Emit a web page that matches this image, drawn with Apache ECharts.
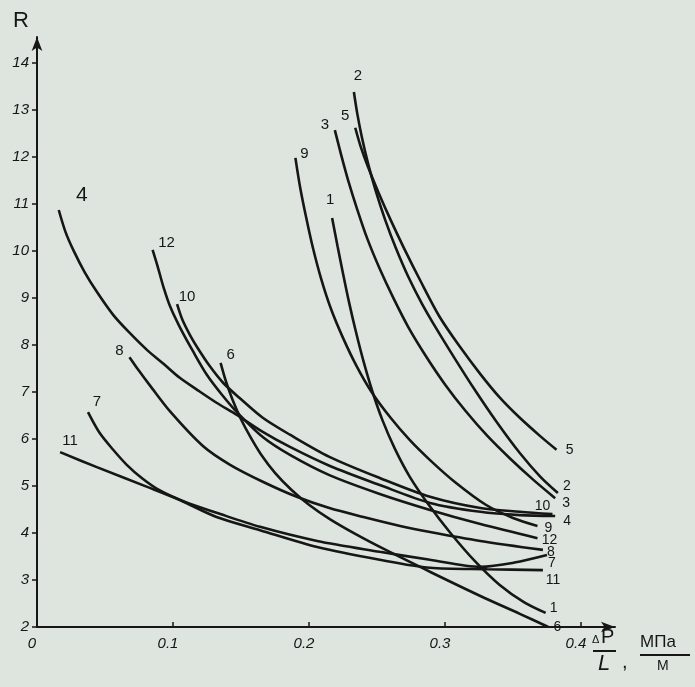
<!DOCTYPE html>
<html><head><meta charset="utf-8">
<script src="https://cdn.jsdelivr.net/npm/echarts@6/dist/echarts.min.js"></script>
<style>html,body{margin:0;padding:0;background:#dde5de;} #c{width:695px;height:687px;}</style>
</head><body><div id="c"></div>
<script>
// ---- data ----
const xTicks = [0, 0.1, 0.2, 0.3, 0.4];
const yTicks = [2, 3, 4, 5, 6, 7, 8, 9, 10, 11, 12, 13, 14];

const x1 = [0.217,0.221,0.225,0.2295,0.2345,0.240,0.2465,0.254,0.263,0.274,0.288,0.304,0.322,0.340,0.358,0.374];
const y1 = [10.70,10.10,9.52,8.90,8.28,7.66,7.02,6.40,5.80,5.20,4.60,4.00,3.40,2.90,2.53,2.30];

const x2 = [0.233,0.2355,0.239,0.2435,0.249,0.256,0.264,0.273,0.283,0.294,0.307,0.322,0.338,0.355,0.370,0.383];
const y2 = [13.38,12.92,12.40,11.85,11.28,10.66,10.05,9.45,8.88,8.33,7.72,7.04,6.36,5.70,5.20,4.85];

const x3 = [0.219,0.2235,0.229,0.2355,0.243,0.252,0.262,0.273,0.286,0.300,0.315,0.331,0.348,0.365,0.381];
const y3 = [12.57,12.06,11.48,10.88,10.25,9.62,9.00,8.38,7.76,7.16,6.60,6.07,5.58,5.13,4.74];

const x4 = [0.016,0.021,0.027,0.035,0.044,0.056,0.068,0.081,0.093,0.105,0.118,0.132,0.147,0.166,0.186,0.215,0.252,0.289,0.326,0.355,0.381];
const y4 = [10.87,10.40,10.00,9.55,9.13,8.64,8.26,7.89,7.60,7.30,7.04,6.77,6.51,6.15,5.83,5.43,5.02,4.64,4.45,4.38,4.36];

const x5 = [0.234,0.238,0.2435,0.251,0.260,0.270,0.282,0.296,0.311,0.326,0.340,0.355,0.370,0.382];
const y5 = [12.62,12.22,11.78,11.25,10.66,10.05,9.36,8.60,7.96,7.38,6.89,6.45,6.06,5.77];

const x6 = [0.135,0.139,0.144,0.150,0.157,0.165,0.175,0.187,0.200,0.215,0.234,0.255,0.290,0.326,0.355,0.376];
const y6 = [7.62,7.22,6.82,6.42,6.04,5.66,5.28,4.92,4.60,4.30,3.98,3.66,3.16,2.66,2.28,2.00];

const x7 = [0.0375,0.046,0.056,0.066,0.077,0.090,0.109,0.132,0.164,0.206,0.252,0.289,0.326,0.351,0.375];
const y7 = [6.57,6.13,5.77,5.45,5.17,4.91,4.66,4.43,4.13,3.83,3.60,3.43,3.28,3.37,3.53];

const x8 = [0.068,0.075,0.083,0.098,0.122,0.142,0.166,0.191,0.215,0.240,0.267,0.289,0.326,0.372];
const y8 = [7.74,7.45,7.14,6.58,5.85,5.45,5.09,4.77,4.53,4.34,4.15,4.02,3.83,3.64];

const x9 = [0.190,0.1935,0.198,0.203,0.209,0.216,0.225,0.235,0.246,0.260,0.274,0.289,0.307,0.330,0.350,0.368];
const y9 = [11.98,11.35,10.70,10.05,9.40,8.78,8.15,7.55,7.00,6.45,5.98,5.55,5.09,4.60,4.32,4.15];

const x10 = [0.103,0.107,0.1125,0.118,0.127,0.137,0.149,0.166,0.186,0.215,0.252,0.289,0.326,0.355,0.379];
const y10 = [8.87,8.53,8.21,7.94,7.55,7.19,6.87,6.45,6.09,5.62,5.17,4.77,4.53,4.45,4.40];

const x11 = [0.017,0.044,0.081,0.105,0.132,0.164,0.206,0.252,0.289,0.331,0.372];
const y11 = [5.72,5.40,4.98,4.70,4.34,4.06,3.70,3.43,3.26,3.23,3.21];

const x12 = [0.085,0.089,0.093,0.098,0.105,0.115,0.125,0.136,0.147,0.166,0.186,0.215,0.252,0.289,0.326,0.368];
const y12 = [10.02,9.64,9.23,8.81,8.38,7.85,7.36,6.94,6.57,6.04,5.66,5.23,4.83,4.49,4.19,3.89];

const curveNames = ['1','2','3','4','5','6','7','8','9','10','11','12'];
const curveX = [x1,x2,x3,x4,x5,x6,x7,x8,x9,x10,x11,x12];
const curveY = [y1,y2,y3,y4,y5,y6,y7,y8,y9,y10,y11,y12];

// ---- label placement (pixel offsets, styling only) ----
const startOffset = {
  '1':[-2,-18],'2':[4,-16],'3':[-10,-5],'4':[23,-15],'5':[-10,-12],'6':[10,-8],
  '7':[9,-10],'8':[-10,-6],'9':[9,-4],'10':[10,-7],'11':[10,-11],'12':[14,-7]
};
const endOffset = {
  '1':[8,-5],'2':[9,-7],'3':[11,5],'4':[12,5],'5':[13,0],'6':[9,0],
  '7':[5,8],'8':[8,2],'9':[11,2],'10':[-10,-8],'11':[10,10],'12':[12,2]
};
const startFont = {'4':21};

const font = 'Liberation Sans';
const ink = '#161616';

const series = curveNames.map((name, k) => {
  const xs = curveX[k], ys = curveY[k];
  const data = xs.map((x, i) => [x, ys[i]]);
  const n = data.length - 1;
  return {
    name: name,
    type: 'line',
    data: data,
    smooth: 0.3,
    showSymbol: false,
    silent: true,
    lineStyle: {color: ink, width: 2.6},
    markPoint: {
      symbol: 'circle',
      symbolSize: 1,
      itemStyle: {color: 'rgba(0,0,0,0)'},
      silent: true,
      animation: false,
      data: [
        {coord: data[0], value: name,
         label: {show: true, position: 'inside', offset: startOffset[name], formatter: name,
                 fontSize: startFont[name] || 15, fontFamily: font, color: ink}},
        {coord: data[n], value: name,
         label: {show: true, position: 'inside', offset: endOffset[name], formatter: name,
                 fontSize: 14, fontFamily: font, color: ink}}
      ]
    }
  };
});

const chart = echarts.init(document.getElementById('c'), null, {renderer: 'canvas'});
chart.setOption({
  backgroundColor: '#dde5de',
  animation: false,
  grid: {left: 37, top: 37, width: 578, height: 590},
  xAxis: {
    type: 'value', min: 0, max: 0.425,
    axisLine: {show: true, lineStyle: {color: ink, width: 2}, symbol: ['none', 'arrow'], symbolSize: [8, 14]},
    axisTick: {show: true, inside: true, length: 5, lineStyle: {color: ink, width: 1.5}, customValues: xTicks},
    axisLabel: {customValues: xTicks, fontStyle: 'italic', fontSize: 15, fontFamily: font, color: ink, margin: 9,
      padding: [0, 10, 0, 0],
      formatter: v => (v === 0 ? '0' : v.toFixed(1))},
    splitLine: {show: false}
  },
  yAxis: {
    type: 'value', min: 2, max: 14.55,
    axisLine: {show: true, lineStyle: {color: ink, width: 2}, symbol: ['none', 'arrow'], symbolSize: [8, 14]},
    axisTick: {show: true, inside: false, length: 5, lineStyle: {color: ink, width: 1.5}, customValues: yTicks},
    axisLabel: {customValues: yTicks, fontStyle: 'italic', fontSize: 15, fontFamily: font, color: ink, margin: 8},
    splitLine: {show: false}
  },
  graphic: [
    {type: 'text', left: 13, top: 10, style: {text: 'R', fontSize: 22, fontFamily: font, fill: ink}},
    {type: 'text', left: 592, top: 634, style: {text: 'Δ', fontSize: 11, fontFamily: font, fill: ink}},
    {type: 'text', left: 601, top: 627, style: {text: 'P', fontSize: 20, fontFamily: font, fill: ink}},
    {type: 'line', shape: {x1: 593, y1: 651, x2: 616, y2: 651}, style: {stroke: ink, lineWidth: 2}},
    {type: 'text', left: 598, top: 653, style: {text: 'L', fontSize: 22, fontFamily: font, fontStyle: 'italic', fill: ink}},
    {type: 'text', left: 622, top: 652, style: {text: ',', fontSize: 20, fontFamily: font, fill: ink}},
    {type: 'text', left: 640, top: 634, style: {text: 'МПа', fontSize: 17, fontFamily: font, fill: ink}},
    {type: 'line', shape: {x1: 640, y1: 655, x2: 690, y2: 655}, style: {stroke: ink, lineWidth: 1.8}},
    {type: 'text', left: 657, top: 659, style: {text: 'М', fontSize: 14, fontFamily: font, fill: ink}}
  ],
  series: series
});
</script>
</body></html>
